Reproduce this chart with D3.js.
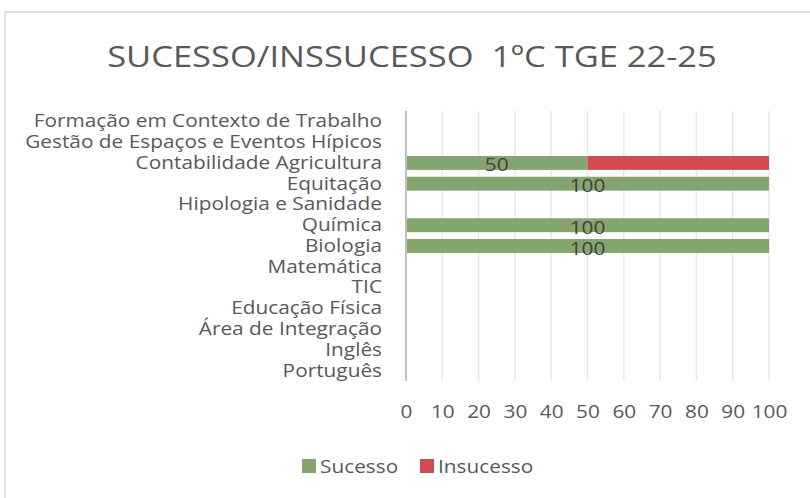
<!DOCTYPE html>
<html>
<head>
<meta charset="utf-8">
<script src="https://cdn.jsdelivr.net/npm/d3@7"></script>
<style>
  body { margin: 0; background: #fff; }
  text { font-family: "Open Sans", sans-serif; fill: #595959; }
</style>
</head>
<body>
<div id="chart"></div>
<script>
// chart data (bottom to top, like the excel chart)
var categories = ["Português", "Inglês", "Área de Integração", "Educação Física", "TIC",
  "Matemática", "Biologia", "Química", "Hipologia e Sanidade", "Equitação",
  "Contabilidade Agricultura", "Gestão de Espaços e Eventos Hípicos",
  "Formação em Contexto de Trabalho"];
var sucesso = [null, null, null, null, null, null, 100, 100, null, 100, 50, null, null];
var insucesso = [null, null, null, null, null, null, null, null, null, null, 50, null, null];
var seriesNames = ["Sucesso", "Insucesso"];
var xTicks = [0, 10, 20, 30, 40, 50, 60, 70, 80, 90, 100];
var title = "SUCESSO/INSSUCESSO\u00a0\u00a01ºC TGE 22-25";

var svgWidth = 810;
var svgHeight = 498;

var margin = {
  top: 111,
  right: 41,
  bottom: 117,
  left: 406
};

var width = svgWidth - margin.left - margin.right;
var height = svgHeight - margin.top - margin.bottom;

var colors = ["#84a56d", "#d24b4e"];
// the original text is a bit wider than open sans, so stretch it sideways
var stretch = 1.125;

var svg = d3.select("#chart")
  .append("svg")
  .attr("width", svgWidth)
  .attr("height", svgHeight);

// light chart border
svg.append("rect")
  .attr("x", 5)
  .attr("y", 12)
  .attr("width", svgWidth)
  .attr("height", svgHeight)
  .attr("fill", "none")
  .attr("stroke", "#d9d9d9")
  .attr("stroke-width", 1.5);

// title
svg.append("text")
  .attr("transform", `translate(412, 67) scale(1.15, 1)`)
  .attr("text-anchor", "middle")
  .style("font-size", "30px")
  .text(title);

var chartGroup = svg.append("g")
  .attr("transform", `translate(${margin.left}, ${margin.top})`);

// scales
var xScale = d3.scaleLinear()
  .domain([0, 100])
  .range([0, width]);

var yScale = d3.scaleBand()
  .domain(categories.slice().reverse())
  .range([0, height])
  .paddingInner(0.33)
  .paddingOuter(0.165);

// vertical gridlines
chartGroup.append("g")
  .selectAll("line")
  .data(xTicks.slice(1))
  .enter()
  .append("line")
  .attr("x1", d => xScale(d))
  .attr("x2", d => xScale(d))
  .attr("y1", 0)
  .attr("y2", height)
  .attr("stroke", "#e8e8e8")
  .attr("stroke-width", 1.5);

// stacked bars
var rows = categories.map(function(c, i) {
  return { cat: c, s: sucesso[i] || 0, f: insucesso[i] || 0, label: sucesso[i] };
});

chartGroup.selectAll(".bar-s")
  .data(rows.filter(d => d.s > 0))
  .enter()
  .append("rect")
  .attr("class", "bar-s")
  .attr("x", xScale(0))
  .attr("y", d => yScale(d.cat))
  .attr("width", d => xScale(d.s) - xScale(0))
  .attr("height", yScale.bandwidth())
  .attr("fill", colors[0]);

chartGroup.selectAll(".bar-f")
  .data(rows.filter(d => d.f > 0))
  .enter()
  .append("rect")
  .attr("class", "bar-f")
  .attr("x", d => xScale(d.s))
  .attr("y", d => yScale(d.cat))
  .attr("width", d => xScale(d.s + d.f) - xScale(d.s))
  .attr("height", yScale.bandwidth())
  .attr("fill", colors[1]);

// data labels on the sucesso bars
chartGroup.selectAll(".lbl")
  .data(rows.filter(d => d.label != null))
  .enter()
  .append("text")
  .attr("class", "lbl")
  .attr("transform", d => `translate(${xScale(d.s / 2)}, ${yScale(d.cat) + yScale.bandwidth() / 2 + 1.5}) scale(${stretch}, 1)`)
  .attr("text-anchor", "middle")
  .attr("dominant-baseline", "central")
  .style("font-size", "18.5px")
  .style("fill", "#404040")
  .text(d => d.label);

// y axis (labels only + axis line)
var leftAxis = d3.axisLeft(yScale).tickSize(0).tickPadding(24 / stretch);
var yAxisG = chartGroup.append("g").call(leftAxis);
yAxisG.select(".domain").remove();
yAxisG.selectAll("text")
  .attr("transform", `scale(${stretch}, 1)`)
  .style("font-size", "18.5px")
  .style("font-family", "Open Sans")
  .attr("fill", "#595959");

chartGroup.append("line")
  .attr("x1", 0)
  .attr("x2", 0)
  .attr("y1", 0)
  .attr("y2", height)
  .attr("stroke", "#bfbfbf")
  .attr("stroke-width", 2);

// x axis tick labels
var bottomAxis = d3.axisBottom(xScale).tickValues(xTicks).tickSize(0).tickPadding(24);
var xAxisG = chartGroup.append("g")
  .attr("transform", `translate(0, ${height})`)
  .call(bottomAxis);
xAxisG.select(".domain").remove();
xAxisG.selectAll("text")
  .attr("transform", `scale(${stretch}, 1)`)
  .style("font-size", "18.5px")
  .style("font-family", "Open Sans")
  .attr("fill", "#595959");

// legend
var legendX = [302, 420];
var legend = svg.append("g")
  .selectAll("g")
  .data(seriesNames)
  .enter()
  .append("g")
  .attr("transform", (d, i) => `translate(${legendX[i]}, 466)`);

legend.append("rect")
  .attr("x", 0)
  .attr("y", -7)
  .attr("width", 14)
  .attr("height", 14)
  .attr("fill", (d, i) => colors[i]);

legend.append("text")
  .attr("transform", `translate(18, 0) scale(${stretch}, 1)`)
  .attr("dominant-baseline", "central")
  .style("font-size", "18.5px")
  .text(d => d);
</script>
</body>
</html>
